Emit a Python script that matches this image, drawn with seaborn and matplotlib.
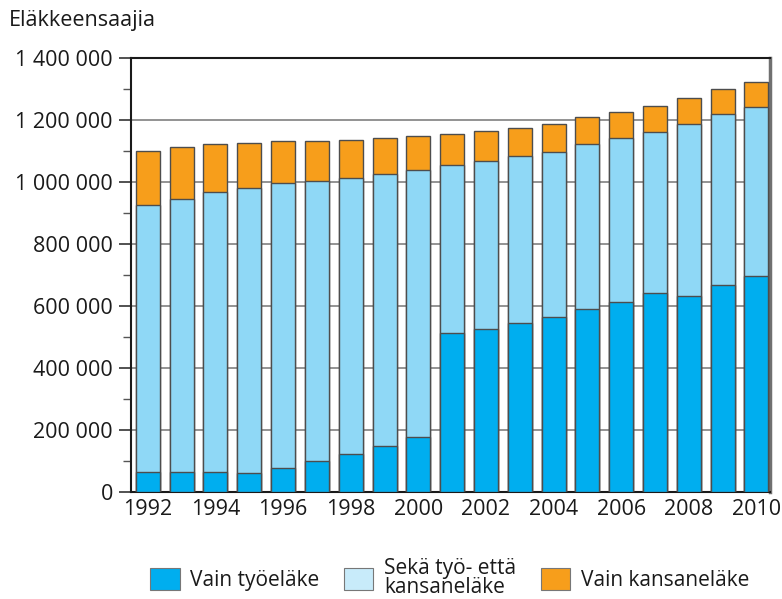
import matplotlib.pyplot as plt
import matplotlib.patches as mpatches
from matplotlib.ticker import FuncFormatter, MultipleLocator
import numpy as np
import seaborn as sns

# Eläkkeensaajat 1992-2010 eläkelajin mukaan
years = [str(y) for y in range(1992, 2011)]
vain_tyoelake = [63000, 63000, 63000, 60000, 77000, 99000, 122000, 149000, 176000,
                 512000, 525000, 544000, 563000, 589000, 614000, 641000, 632000, 668000, 697000]
seka_tyo_etta_kansa = [862000, 883000, 904000, 920000, 919000, 903000, 891000, 877000, 862000,
                       542000, 543000, 539000, 534000, 532000, 527000, 521000, 556000, 551000, 544000]
vain_kansanelake = [174000, 166000, 156000, 147000, 137000, 131000, 122000, 115000, 109000,
                    100000, 95000, 90000, 89000, 88000, 84000, 82000, 82000, 82000, 81000]

labels = ["Vain työeläke", "Sekä työ- että\nkansaneläke", "Vain kansaneläke"]
colors = ["#00aeef", "#8fd8f6", "#f79e1b"]
legend_colors = ["#00aeef", "#c8ebfa", "#f79e1b"]

sns.set_style("white")
plt.rcParams['font.family'] = ['Open Sans', 'DejaVu Sans']

fig = plt.figure(figsize=(7.82, 5.99), dpi=100)
ax = fig.add_axes([0.1675, 0.1786, 0.817, 0.7246])

a = np.array(vain_tyoelake)
b = a + np.array(seka_tyo_etta_kansa)
c = b + np.array(vain_kansanelake)

# stacked bars: draw totals first, then overlay lower parts
for vals, col in zip([c, b, a], colors[::-1]):
    sns.barplot(x=years, y=vals, color=col, saturation=1, width=0.71,
                edgecolor="#4d4d4d", linewidth=1.0, ax=ax, zorder=3)

ax.set_ylim(0, 1400000)
ax.set_xlim(-0.5, 18.4)
ax.yaxis.set_major_locator(MultipleLocator(200000))
ax.yaxis.set_minor_locator(MultipleLocator(100000))
ax.yaxis.set_major_formatter(FuncFormatter(lambda v, p: f"{int(v):,}".replace(",", " ")))
ax.yaxis.grid(True, which="major", color="#808080", linewidth=1.2, zorder=0)
ax.set_axisbelow(True)

ax.set_xticks(range(len(years)))
ax.set_xticklabels([y if i % 2 == 0 else "" for i, y in enumerate(years)])
ax.tick_params(axis="x", length=0, labelsize=15.5, pad=5, colors="#1a1a1a")
ax.tick_params(axis="y", which="major", direction="out", length=9, width=1.2,
               color="#333333", labelsize=15.5, pad=4, labelcolor="#1a1a1a", left=True)
ax.tick_params(axis="y", which="minor", direction="out", length=6, width=1.0,
               color="#555555", left=True)
ax.set_xlabel("")
ax.set_ylabel("")

for side in ["left", "top", "bottom"]:
    ax.spines[side].set_color("#1a1a1a")
    ax.spines[side].set_linewidth(1.5)
ax.spines["right"].set_color("#707070")
ax.spines["right"].set_linewidth(2.5)

fig.text(0.011, 0.965, "Eläkkeensaajia", fontsize=15.5, color="#1a1a1a", va="center", ha="left")

handles = [mpatches.Patch(facecolor=col, edgecolor="#777777", linewidth=0.8)
           for col in legend_colors]
leg = fig.legend(handles, labels, loc="center", bbox_to_anchor=(0.575, 0.035), ncol=3,
                 frameon=False, fontsize=15, handlelength=1.4, handleheight=1.3,
                 handletextpad=0.5, columnspacing=1.2)
for t in leg.get_texts():
    t.set_linespacing(0.85)
    t.set_color("#1a1a1a")

fig.savefig("out.png", dpi=100)
